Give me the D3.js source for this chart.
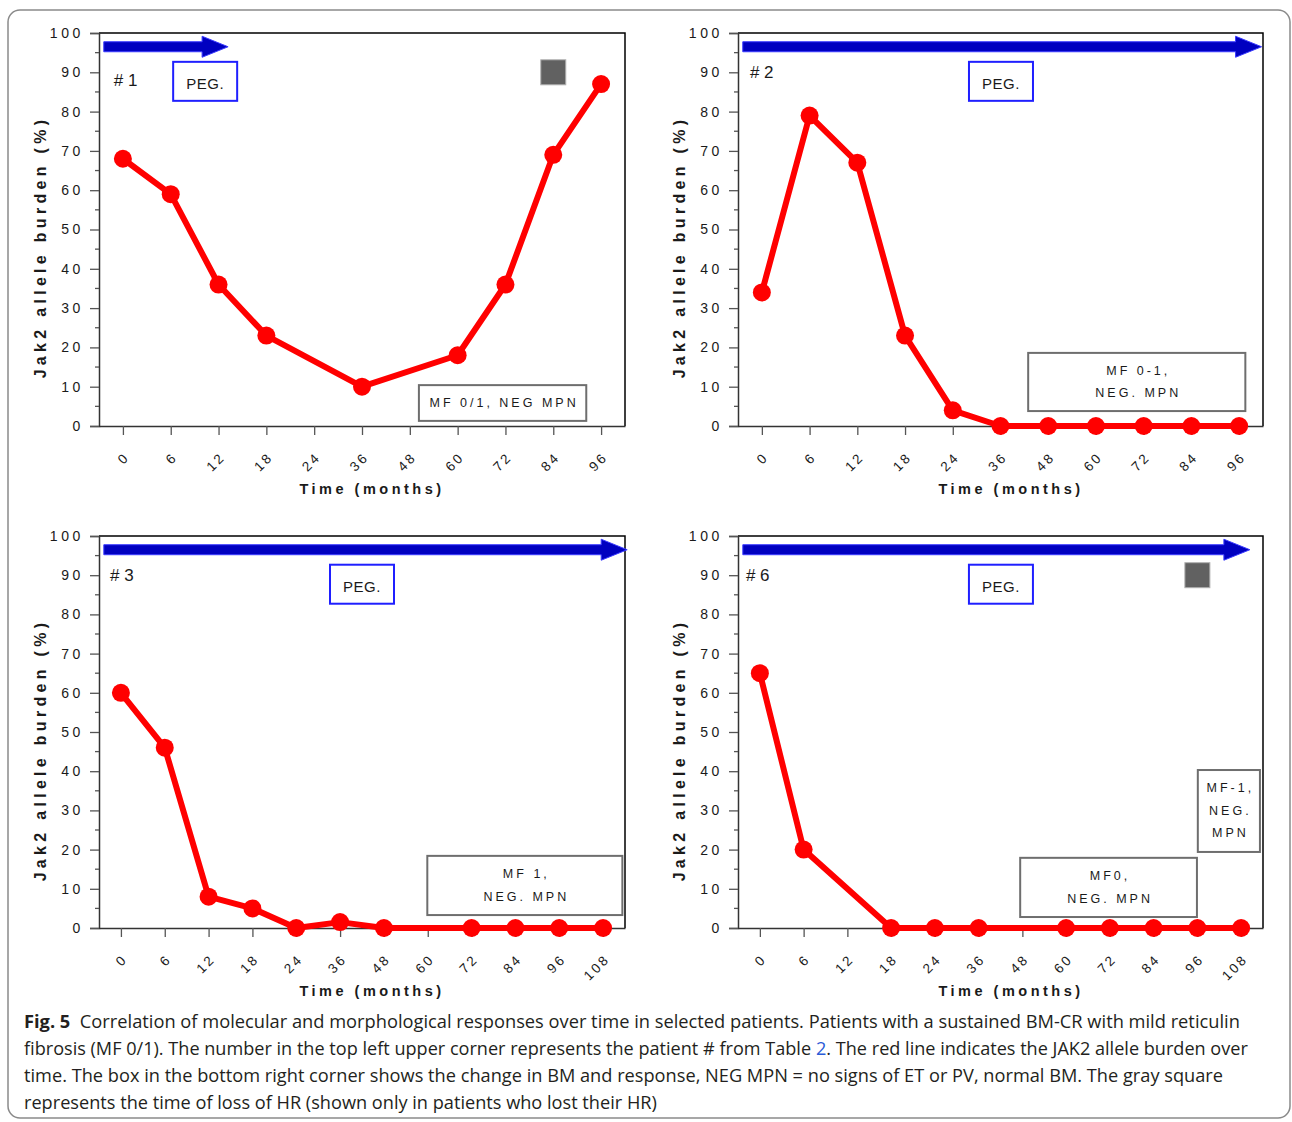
<!DOCTYPE html>
<html>
<head>
<meta charset="utf-8">
<script src="https://cdn.jsdelivr.net/npm/d3@7"></script>
<style>
body { margin: 0; background: #fff; }
svg text { font-family: Arial, "Liberation Sans", sans-serif; fill: #1a1a1a; }
</style>
</head>
<body>
<div id="chart"></div>
<script>
// time points (months) and JAK2 allele burden (%) per patient
var months96 = ["0", "6", "12", "18", "24", "36", "48", "60", "72", "84", "96"];
var months108 = ["0", "6", "12", "18", "24", "36", "48", "60", "72", "84", "96", "108"];
var burden1 = [68, 59, 36, 23, null, 10, null, 18, 36, 69, 87];
var burden2 = [34, 79, 67, 23, 4, 0, 0, 0, 0, 0, 0];
var burden3 = [60, 46, 8, 5, 0, 1.5, 0, null, 0, 0, 0, 0];
var burden6 = [65, 20, null, 0, 0, 0, null, 0, 0, 0, 0, 0];
var yTicks = d3.range(0, 101, 10);
var yMinorTicks = d3.range(5, 100, 10);
var patientLabels = ["# 1", "# 2", "# 3", "# 6"];
var boxText1 = ["MF 0/1, NEG MPN"];
var boxText2 = ["MF 0-1,", "NEG. MPN"];
var boxText3 = ["MF 1,", "NEG. MPN"];
var boxText6a = ["MF0,", "NEG. MPN"];
var boxText6b = ["MF-1,", "NEG.", "MPN"];

var captionLines = [
    [["Fig. 5", "bold"], ["  Correlation of molecular and morphological responses over time in selected patients. Patients with a sustained BM-CR with mild reticulin", ""]],
    [["fibrosis (MF 0/1). The number in the top left upper corner represents the patient # from Table ", ""], ["2", "link"], [". The red line indicates the JAK2 allele burden over", ""]],
    [["time. The box in the bottom right corner shows the change in BM and response, NEG MPN = no signs of ET or PV, normal BM. The gray square", ""]],
    [["represents the time of loss of HR (shown only in patients who lost their HR)", ""]]
];
var captionWidths = [1217, 1224, 1200, 633];

// annotation positions are in (category index, percent) units
var panels = [
    {months: months96, values: burden1, label: patientLabels[0], left: 99, top: 33, right: 625, bottom: 426,
     arrow: [-0.4, 2.2], labelAt: [-0.19, 88], peg: [1.72, 87.7], loss: [9, 90],
     boxes: [{x: [6.19, 9.69], y: [1.3, 10.4], lines: boxText1}]},
    {months: months96, values: burden2, label: patientLabels[1], left: 738, top: 33, right: 1263, bottom: 426,
     arrow: [-0.4, 10.47], labelAt: [-0.25, 90], peg: [5.01, 87.7], loss: null,
     boxes: [{x: [5.58, 10.13], y: [3.8, 18.6], lines: boxText2}]},
    {months: months108, values: burden3, label: patientLabels[2], left: 99, top: 536, right: 625, bottom: 928,
     arrow: [-0.39, 11.55], labelAt: [-0.25, 90], peg: [5.5, 87.7], loss: null,
     boxes: [{x: [6.99, 11.44], y: [3.3, 18.4], lines: boxText3}]},
    {months: months108, values: burden6, label: patientLabels[3], left: 738, top: 536, right: 1263, bottom: 928,
     arrow: [-0.39, 11.2], labelAt: [-0.32, 90], peg: [5.51, 87.7], loss: [10, 90],
     boxes: [{x: [5.95, 9.99], y: [2.8, 17.9], lines: boxText6a},
             {x: [10.01, 11.43], y: [19.4, 40.3], lines: boxText6b}]}
];

var svg = d3.select("#chart")
    .append("svg")
    .attr("width", 1292)
    .attr("height", 1122);

svg.append("rect")
    .attr("x", 8).attr("y", 10)
    .attr("width", 1282).attr("height", 1108)
    .attr("rx", 12)
    .attr("fill", "none")
    .attr("stroke", "#8a8a8a")
    .attr("stroke-width", 1.5);

panels.forEach(function(p) {
    var x = d3.scalePoint().domain(p.months).range([p.left, p.right]).padding(0.5);
    var y = d3.scaleLinear().domain([0, 100]).range([p.bottom, p.top]);
    var xi = i => x(p.months[0]) + i * x.step();
    var g = svg.append("g");

    // frame
    g.append("path")
        .attr("d", "M" + p.left + "," + p.top + "H" + p.right + "V" + p.bottom)
        .attr("fill", "none").attr("stroke", "#000").attr("stroke-width", 1.5);

    // Y axis
    var yAxis = g.append("g")
        .attr("transform", "translate(" + p.left + ",0)")
        .call(d3.axisLeft(y).tickValues(yTicks).tickSize(9).tickPadding(12));
    yAxis.select(".domain").attr("stroke", "#333").attr("stroke-width", 1.5);
    yAxis.selectAll(".tick line").attr("stroke", "#555").attr("stroke-width", 1.3);
    yAxis.selectAll("text")
        .style("font-size", "14px").style("letter-spacing", "3.6px")
        .attr("fill", "#1a1a1a").attr("x", -15);
    g.selectAll(".minor")
        .data(yMinorTicks)
        .enter().append("line")
        .attr("x1", p.left - 4).attr("x2", p.left)
        .attr("y1", d => y(d)).attr("y2", d => y(d))
        .attr("stroke", "#555").attr("stroke-width", 1.3);

    // X axis
    var xAxis = g.append("g")
        .attr("transform", "translate(0," + p.bottom + ")")
        .call(d3.axisBottom(x).tickSize(9).tickSizeOuter(0));
    xAxis.select(".domain").attr("stroke", "#333").attr("stroke-width", 1.5);
    xAxis.selectAll(".tick line").attr("stroke", "#555").attr("stroke-width", 1.3);
    xAxis.selectAll("text")
        .style("font-size", "13.5px").style("letter-spacing", "2.5px")
        .attr("fill", "#1a1a1a")
        .attr("text-anchor", "end")
        .attr("y", 0).attr("dy", 0)
        .attr("transform", "translate(7,32) rotate(-45)");

    // axis titles
    g.append("text")
        .attr("x", p.left + 273).attr("y", p.bottom + 63)
        .attr("text-anchor", "middle").attr("dominant-baseline", "central")
        .style("font-size", "14.5px").style("font-weight", "bold").style("letter-spacing", "3.5px")
        .text("Time (months)");
    g.append("text")
        .attr("transform", "translate(" + (p.left - 59) + "," + (p.top + 214) + ") rotate(-90)")
        .attr("text-anchor", "middle").attr("dominant-baseline", "central")
        .style("font-size", "16px").style("font-weight", "bold").style("letter-spacing", "4.3px")
        .text("Jak2 allele burden (%)");

    // treatment arrow
    var ax0 = xi(p.arrow[0]), ax1 = xi(p.arrow[1]), ay = y(96.5), ah = ax1 - 26;
    g.append("path")
        .attr("d", "M" + ax0 + "," + (ay - 5) + "H" + ah + "V" + (ay - 10.5) + "L" + ax1 + "," + ay +
              "L" + ah + "," + (ay + 10.5) + "V" + (ay + 5) + "H" + ax0 + "Z")
        .attr("fill", "#0000c0").attr("stroke", "#3a3aff").attr("stroke-width", 1);

    // patient label
    g.append("text")
        .attr("x", xi(p.labelAt[0])).attr("y", y(p.labelAt[1]))
        .attr("dominant-baseline", "central")
        .style("font-size", "17px")
        .text(p.label);

    // PEG box
    var pg = g.append("g").attr("transform", "translate(" + xi(p.peg[0]) + "," + y(p.peg[1]) + ")");
    pg.append("rect")
        .attr("x", -32).attr("y", -19.5).attr("width", 64).attr("height", 39)
        .attr("fill", "#fff").attr("stroke", "#1f1fff").attr("stroke-width", 2);
    pg.append("text")
        .attr("text-anchor", "middle").attr("dominant-baseline", "central").attr("y", 2)
        .style("font-size", "15px").style("letter-spacing", "0.5px")
        .text("PEG.");

    // loss of HR marker
    if (p.loss) {
        g.append("rect")
            .attr("x", xi(p.loss[0]) - 12.5).attr("y", y(p.loss[1]) - 12.5)
            .attr("width", 25).attr("height", 25)
            .attr("fill", "#616161").attr("stroke", "#b0b0b0").attr("stroke-width", 1);
    }

    // BM response boxes
    p.boxes.forEach(function(b) {
        var bx0 = xi(b.x[0]), bx1 = xi(b.x[1]), by0 = y(b.y[1]), by1 = y(b.y[0]);
        g.append("rect")
            .attr("x", bx0).attr("y", by0).attr("width", bx1 - bx0).attr("height", by1 - by0)
            .attr("fill", "#fff").attr("stroke", "#6e6e6e").attr("stroke-width", 2);
        var cx = (bx0 + bx1) / 2 + 1.5, cy = (by0 + by1) / 2;
        b.lines.forEach(function(t, i) {
            g.append("text")
                .attr("x", cx).attr("y", cy + (i - (b.lines.length - 1) / 2) * 22.5)
                .attr("text-anchor", "middle").attr("dominant-baseline", "central")
                .style("font-size", "12.5px").style("letter-spacing", "3px")
                .text(t);
        });
    });

    // allele burden line
    var pts = p.months.map((m, i) => [m, p.values[i]]).filter(d => d[1] != null);
    var line = d3.line().x(d => x(d[0])).y(d => y(d[1]));
    g.append("path")
        .datum(pts)
        .attr("d", line)
        .attr("fill", "none").attr("stroke", "#ff0000").attr("stroke-width", 6)
        .attr("stroke-linejoin", "round");
    g.selectAll(".pt")
        .data(pts)
        .enter().append("circle")
        .attr("cx", d => x(d[0])).attr("cy", d => y(d[1]))
        .attr("r", 9)
        .attr("fill", "#ff0000");
});

// caption: pieces laid out one after another, each line squeezed to its width
captionLines.forEach(function(pieces, i) {
    var lg = svg.append("g");
    var cursor = 0;
    pieces.forEach(function(pc) {
        var t = lg.append("text")
            .attr("x", cursor).attr("y", 0)
            .attr("xml:space", "preserve")
            .style("white-space", "pre")
            .style("font-family", "'Open Sans', 'Noto Sans', sans-serif")
            .style("font-size", "18.5px")
            .style("font-weight", pc[1] == "bold" ? "bold" : "normal")
            .attr("fill", pc[1] == "link" ? "#2a5bd7" : "#231f20")
            .style("fill", pc[1] == "link" ? "#2a5bd7" : "#231f20")
            .text(pc[0]);
        cursor += t.node().getComputedTextLength();
    });
    var sx = captionWidths[i] / cursor;
    lg.attr("transform", "translate(24," + (1028 + i * 27) + ") scale(" + sx + ",1)");
});
</script>
</body>
</html>
